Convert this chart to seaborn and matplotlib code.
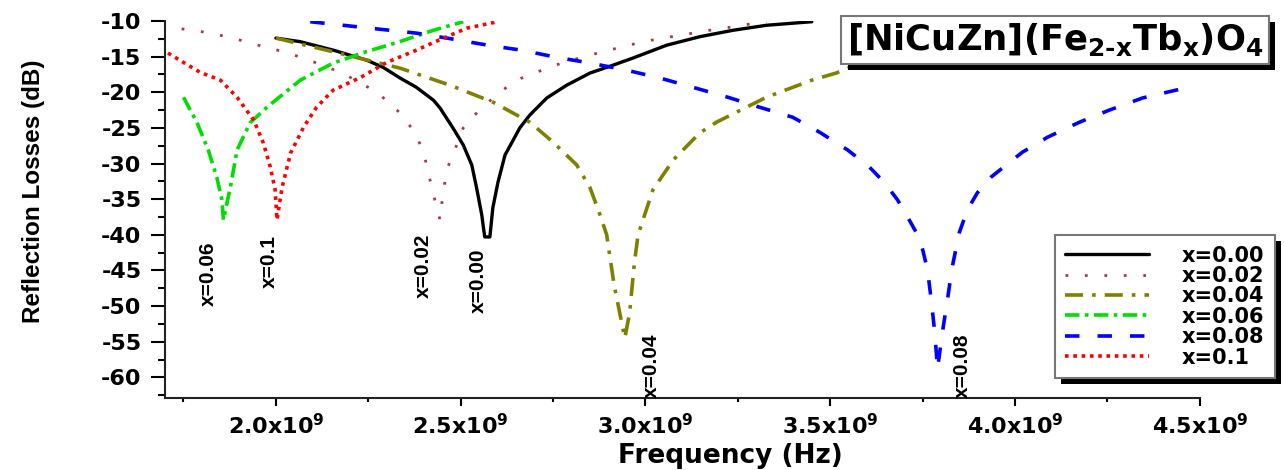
import numpy as np
import pandas as pd
import seaborn as sns
import matplotlib.pyplot as plt
from matplotlib import font_manager, patheffects
from matplotlib.ticker import MultipleLocator, FuncFormatter

# frequency in GHz, reflection loss in dB
f_000 = [2.00, 2.066, 2.156, 2.246, 2.29, 2.336, 2.38, 2.426, 2.444, 2.479, 2.507, 2.53, 2.543,
         2.557, 2.565, 2.579, 2.587, 2.601, 2.62, 2.639, 2.66, 2.687, 2.733, 2.787, 2.85, 2.912,
         2.966, 3.057, 3.147, 3.237, 3.327, 3.45]
rl_000 = [-12.4, -12.9, -14.1, -15.5, -16.5, -18.0, -19.3, -21.1, -22.2, -25.0, -27.4, -30.2, -33.4,
          -37.2, -40.3, -40.3, -36.2, -32.6, -28.8, -27.0, -25.0, -23.2, -20.8, -19.0, -17.3, -16.2,
          -15.2, -13.4, -12.2, -11.3, -10.6, -10.1]

f_002 = [1.745, 1.80, 1.858, 1.912, 1.966, 2.02, 2.08, 2.18, 2.274, 2.336, 2.377, 2.40, 2.417,
         2.43, 2.444, 2.45, 2.462, 2.484, 2.507, 2.53, 2.557, 2.588, 2.624, 2.665, 2.72, 2.773,
         2.828, 2.885, 2.94, 2.993, 3.048, 3.106, 3.16, 3.214, 3.273, 3.327]
rl_002 = [-11.1, -11.5, -12.1, -12.8, -13.6, -14.3, -15.3, -17.3, -20.0, -22.9, -25.7, -28.5, -32.3,
          -35.1, -37.9, -35.1, -30.9, -28.1, -25.0, -23.6, -22.2, -20.8, -19.3, -18.0, -16.9, -15.9,
          -15.1, -14.3, -13.6, -12.9, -12.4, -11.9, -11.4, -11.0, -10.5, -10.1]

f_004 = [2.00, 2.154, 2.335, 2.471, 2.588, 2.687, 2.75, 2.814, 2.85, 2.877, 2.895, 2.915, 2.944,
         2.957, 2.97, 2.98, 3.02, 3.075, 3.147, 3.192, 3.327, 3.45, 3.516, 3.566]
rl_004 = [-12.4, -14.3, -16.6, -19.0, -21.4, -24.2, -27.0, -30.2, -33.4, -37.2, -40.0, -47.0, -54.5,
          -51.0, -43.9, -40.0, -33.7, -29.5, -25.7, -24.2, -20.7, -18.3, -17.3, -16.2]

f_006 = [1.75, 1.787, 1.817, 1.84, 1.854, 1.858, 1.877, 1.895, 1.93, 1.976, 2.066, 2.155, 2.245,
         2.335, 2.426, 2.507]
rl_006 = [-20.7, -24.3, -28.1, -31.9, -35.1, -37.9, -33.3, -28.1, -24.3, -22.1, -18.3, -15.9, -14.3,
          -12.9, -11.3, -10.1]

f_008 = [2.093, 2.20, 2.38, 2.463, 2.574, 2.665, 2.76, 2.85, 2.949, 3.039, 3.128, 3.223, 3.309,
         3.398, 3.471, 3.547, 3.606, 3.647, 3.682, 3.709, 3.733, 3.75, 3.763, 3.773, 3.781, 3.787,
         3.79, 3.803, 3.817, 3.83, 3.849, 3.871, 3.898, 3.935, 4.02, 4.088, 4.174, 4.255, 4.345,
         4.46]
rl_008 = [-10.1, -10.7, -11.7, -12.4, -13.4, -14.1, -15.1, -15.9, -16.9, -18.0, -19.3, -20.7, -22.1,
          -23.5, -25.6, -28.1, -30.5, -32.7, -35.1, -37.5, -39.7, -42.1, -44.9, -49.1, -52.9, -56.6,
          -58.9, -53.8, -49.1, -44.5, -39.7, -36.5, -34.1, -31.9, -28.4, -26.3, -24.2, -22.5, -20.8,
          -19.4]

f_010 = [1.708, 1.74, 1.795, 1.85, 1.895, 1.94, 1.966, 1.985, 1.998, 2.003, 2.017, 2.04, 2.075,
         2.11, 2.155, 2.23, 2.30, 2.38, 2.44, 2.517, 2.60]
rl_010 = [-14.5, -15.5, -17.2, -18.3, -20.7, -23.9, -27.1, -30.5, -33.7, -37.9, -33.3, -28.5, -24.9,
          -22.1, -19.7, -17.9, -15.8, -14.1, -12.7, -11.0, -10.1]

labels = ["x=0.00", "x=0.02", "x=0.04", "x=0.06", "x=0.08", "x=0.1"]

# curve tags at the dips (GHz, dB)
tag_labels = ["x=0.06", "x=0.1", "x=0.02", "x=0.00", "x=0.04", "x=0.08"]
tag_f = [1.817, 1.982, 2.398, 2.549, 3.017, 3.858]
tag_rl = [-45.5, -43.8, -44.4, -46.5, -58.4, -58.4]

STYLES = [
    ("black", "-", 2.4),
    ("#a83c3c", (0, (1, 6)), 2.0),
    ("#808000", (0, (5, 2.5, 1, 2.5)), 2.6),
    ("#00dd00", (0, (4, 1.5, 1, 1.5)), 2.6),
    ("#0000ff", (0, (4, 5)), 2.6),
    ("#ff0000", (0, (1, 1.3)), 2.6),
]


def build_frame():
    series = [(f_000, rl_000), (f_002, rl_002), (f_004, rl_004),
              (f_006, rl_006), (f_008, rl_008), (f_010, rl_010)]
    parts = []
    for lab, (f, rl) in zip(labels, series):
        parts.append(pd.DataFrame({"freq": np.array(f) * 1e9, "rl": rl, "sample": lab}))
    return pd.concat(parts, ignore_index=True)


def main():
    sns.set_style("ticks")
    plt.rcParams["font.family"] = ["DejaVu Sans"]
    plt.rcParams["font.weight"] = "bold"
    for key in ["text.color", "axes.labelcolor", "xtick.color", "ytick.color"]:
        plt.rcParams[key] = "black"

    names = {f.name for f in font_manager.fontManager.ttflist}
    has_narrow = "Liberation Sans Narrow" in names
    narrow = ["Liberation Sans Narrow", "Liberation Sans", "DejaVu Sans"]
    tag_size = 16 if has_narrow else 15
    ylab_size = 20 if has_narrow else 17.5

    df = build_frame()

    fig = plt.figure(figsize=(12.84, 4.70), dpi=100)
    ax = fig.add_axes([0.1285, 0.1532, 0.806, 0.8021])

    for lab, (color, ls, lw) in zip(labels, STYLES):
        sub = df[df["sample"] == lab]
        sns.lineplot(data=sub, x="freq", y="rl", ax=ax, color=color, linestyle=ls,
                     linewidth=lw, label=lab, estimator=None, sort=False)

    ax.set_xlim(1.70e9, 4.5e9)
    ax.set_ylim(-62.9, -10)
    ax.xaxis.set_major_locator(MultipleLocator(0.5e9))
    ax.xaxis.set_minor_locator(MultipleLocator(0.25e9))
    ax.yaxis.set_major_locator(MultipleLocator(5))
    ax.yaxis.set_minor_locator(MultipleLocator(2.5))
    ax.xaxis.set_major_formatter(FuncFormatter(lambda v, p: r"$\mathbf{%.1fx10^{9}}$" % (v / 1e9)))
    ax.yaxis.set_major_formatter(FuncFormatter(lambda v, p: "%d" % v))

    ax.tick_params(axis="y", which="major", length=10, width=1.5, pad=7, labelsize=16)
    ax.tick_params(axis="y", which="minor", length=5, width=1.5)
    ax.tick_params(axis="x", which="major", length=6, width=1.5, pad=5, labelsize=16)
    ax.tick_params(axis="x", which="minor", length=3, width=1.5)
    for t in ax.get_xticklabels() + ax.get_yticklabels():
        t.set_fontweight("bold")

    sns.despine(ax=ax)
    for s in ["left", "bottom"]:
        ax.spines[s].set_linewidth(1.5)
        ax.spines[s].set_color("#222222")

    ax.set_xlabel("Frequency (Hz)", fontsize=19, fontweight="bold", va="baseline")
    ax.xaxis.set_label_coords(0.546, -0.172)
    ax.set_ylabel("Reflection Losses (dB)", fontsize=ylab_size, fontweight="bold", family=narrow)
    ax.yaxis.set_label_coords(-0.116, 0.549)

    for lab, f, rl in zip(tag_labels, tag_f, tag_rl):
        ax.text(f * 1e9, rl, lab, rotation=90, ha="center", va="center",
                fontsize=tag_size, fontweight="bold", family=narrow)

    shadow = [patheffects.SimplePatchShadow(offset=(4.5, -4.5), shadow_rgbFace="black", alpha=1.0),
              patheffects.Normal()]

    leg = ax.legend(loc="lower right", bbox_to_anchor=(1275 / 1284, 1 - 378 / 470),
                    bbox_transform=fig.transFigure, borderaxespad=0, fontsize=15,
                    handlelength=4.0, handletextpad=1.6, labelspacing=0.02, borderpad=0.5,
                    fancybox=False, framealpha=1, edgecolor="#777777")
    for t in leg.get_texts():
        t.set_fontweight("bold")
    leg.get_frame().set_linewidth(1.5)
    leg.get_frame().set_path_effects(shadow)

    title = fig.text(1055 / 1284, 1 - 40 / 470, r"$\mathbf{[NiCuZn](Fe_{2\text{-}x}Tb_{x})O_{4}}$",
                     ha="center", va="center", fontsize=25.5,
                     bbox=dict(boxstyle="square,pad=0.15", fc="white", ec="#777777", lw=1.5))
    title.get_bbox_patch().set_path_effects(shadow)

    fig.savefig("out.png", dpi=100)


if __name__ == "__main__":
    main()
